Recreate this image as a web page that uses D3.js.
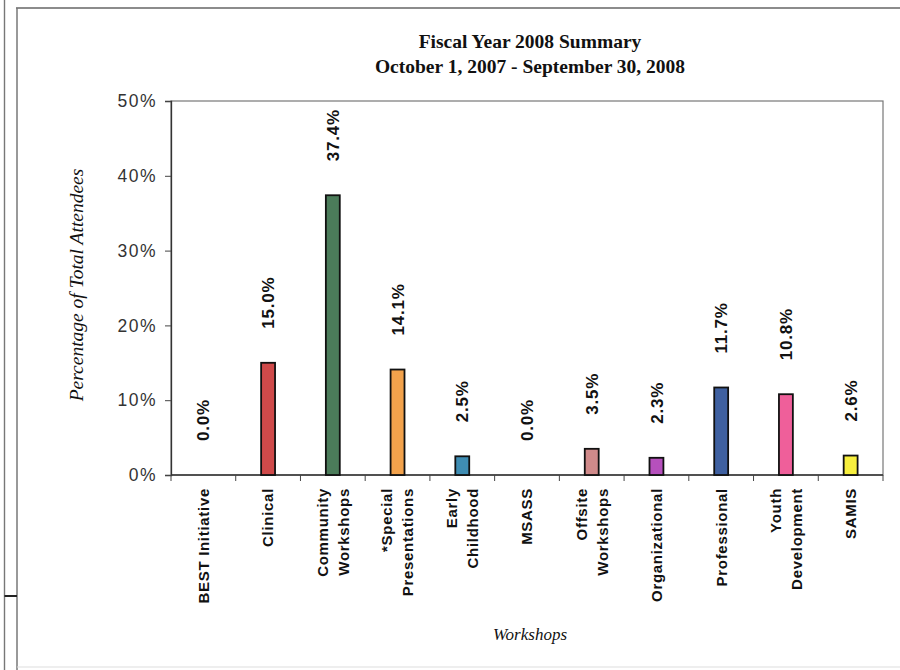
<!DOCTYPE html>
<html><head><meta charset="utf-8">
<script src="https://cdn.jsdelivr.net/npm/d3@7"></script>
<style>body{margin:0;background:#fff}svg{display:block}</style>
</head><body>
<svg id="c" width="900" height="670"></svg>
<script>
const categories = ["BEST Initiative","Clinical","Community Workshops","*Special Presentations","Early Childhood","MSASS","Offsite Workshops","Organizational","Professional","Youth Development","SAMIS"];
const categoryLines = [["BEST Initiative"],["Clinical"],["Community","Workshops"],["*Special","Presentations"],["Early","Childhood"],["MSASS"],["Offsite","Workshops"],["Organizational"],["Professional"],["Youth","Development"],["SAMIS"]];
const values = [0.000,0.150,0.374,0.141,0.025,0.000,0.035,0.023,0.117,0.108,0.026];
const barColors = ["#888888","#cf4a4a","#4b7c5a","#f2a24c","#3f8db3","#888888","#d08a8a","#b650bd","#3f60a0","#ef5f9a","#f7ef3e"];
const yTicks = [0,0.1,0.2,0.3,0.4,0.5];
const titleLines = ["Fiscal Year 2008 Summary","October 1, 2007 - September 30, 2008"];
const yTitle = "Percentage of Total Attendees";
const xTitle = "Workshops";

const svg = d3.select("#c");
const sans = "'Liberation Sans', Arial, sans-serif";
const serif = "'Liberation Serif', 'Times New Roman', serif";

// page frame
svg.append("line").attr("x1",16).attr("x2",900).attr("y1",8).attr("y2",8).attr("stroke","#666").attr("stroke-width",1.5);
svg.append("line").attr("x1",17).attr("x2",17).attr("y1",8).attr("y2",670).attr("stroke","#777").attr("stroke-width",1.5);
svg.append("line").attr("x1",4.5).attr("x2",4.5).attr("y1",0).attr("y2",670).attr("stroke","#777").attr("stroke-width",1.4);
svg.append("line").attr("x1",4.5).attr("x2",17).attr("y1",596).attr("y2",596).attr("stroke","#222").attr("stroke-width",2);
svg.append("line").attr("x1",17).attr("x2",900).attr("y1",667).attr("y2",667).attr("stroke","#ddd").attr("stroke-width",1);

const x = d3.scaleBand().domain(categories).range([171,883]).paddingInner(0).paddingOuter(0);
const y = d3.scaleLinear().domain([0,0.5]).range([475,101]);

// plot border
svg.append("rect").attr("x",171).attr("y",y(0.5)).attr("width",883-171).attr("height",y(0)-y(0.5))
  .attr("fill","none").attr("stroke","#777").attr("stroke-width",1.2);

// y axis
const yAxis = d3.axisLeft(y).tickValues(yTicks).tickFormat(d3.format(".0%")).tickSize(6).tickPadding(8);
const gy = svg.append("g").attr("transform","translate(171,0)").call(yAxis);
gy.select(".domain").attr("stroke","#333").attr("stroke-width",1.3);
gy.selectAll(".tick line").attr("stroke","#444");
gy.selectAll(".tick text").attr("font-family",sans).attr("font-size",17.5).attr("fill","#333").attr("letter-spacing","1.5px");

// x axis line and ticks at band boundaries
svg.append("line").attr("x1",171).attr("x2",883).attr("y1",y(0)).attr("y2",y(0)).attr("stroke","#333").attr("stroke-width",1.3);
const bounds = categories.map(c=>x(c)).concat([x.range()[1]]);
svg.append("g").selectAll("line").data(bounds).join("line")
  .attr("x1",d=>d).attr("x2",d=>d).attr("y1",y(0)).attr("y2",y(0)+6).attr("stroke","#444");

// bars
const bw = x.bandwidth()*0.215;
svg.append("g").selectAll("rect").data(values).join("rect")
  .attr("x",(d,i)=>x(categories[i])+x.bandwidth()/2-bw/2)
  .attr("y",d=>y(d))
  .attr("width",bw)
  .attr("height",d=>y(0)-y(d))
  .attr("fill",(d,i)=>barColors[i])
  .attr("stroke","#111").attr("stroke-width",d=>d>0?1.8:0);

// value labels
svg.append("g").selectAll("text").data(values).join("text")
  .attr("transform",(d,i)=>`translate(${x(categories[i])+x.bandwidth()/2},${y(d)-34}) rotate(-90)`)
  .attr("dy","0.36em")
  .attr("font-family",sans).attr("font-weight","bold").attr("font-size",17).attr("letter-spacing","0.8px")
  .attr("fill","#111")
  .text(d=>d3.format(".1%")(d));

// category labels
const cl = svg.append("g").selectAll("text").data(categoryLines).join("text")
  .attr("transform",(d,i)=>`translate(${x(categories[i])+x.bandwidth()/2},488) rotate(-90)`)
  .attr("text-anchor","end")
  .attr("font-family",sans).attr("font-weight","bold").attr("font-size",15).attr("letter-spacing","0.7px")
  .attr("fill","#111");
cl.each(function(lines){
  const t = d3.select(this);
  const lh = 21;
  lines.forEach((ln,j)=>{
    const off = (j-(lines.length-1)/2)*lh;
    t.append("tspan").attr("x",0).attr("y",off).attr("dy","0.36em").text(ln);
  });
});

// titles
svg.append("g").selectAll("text").data(titleLines).join("text")
  .attr("x",530).attr("y",(d,i)=>48+i*25)
  .attr("text-anchor","middle").attr("font-family",serif).attr("font-weight","bold").attr("font-size",19.5)
  .attr("fill","#111").text(d=>d);

svg.append("text").attr("transform","translate(83,285) rotate(-90)")
  .attr("text-anchor","middle").attr("font-family",serif).attr("font-style","italic").attr("font-size",19.5)
  .attr("fill","#111").text(yTitle);

svg.append("text").attr("x",530).attr("y",640)
  .attr("text-anchor","middle").attr("font-family",serif).attr("font-style","italic").attr("font-size",17)
  .attr("fill","#111").text(xTitle);
</script>
</body></html>
